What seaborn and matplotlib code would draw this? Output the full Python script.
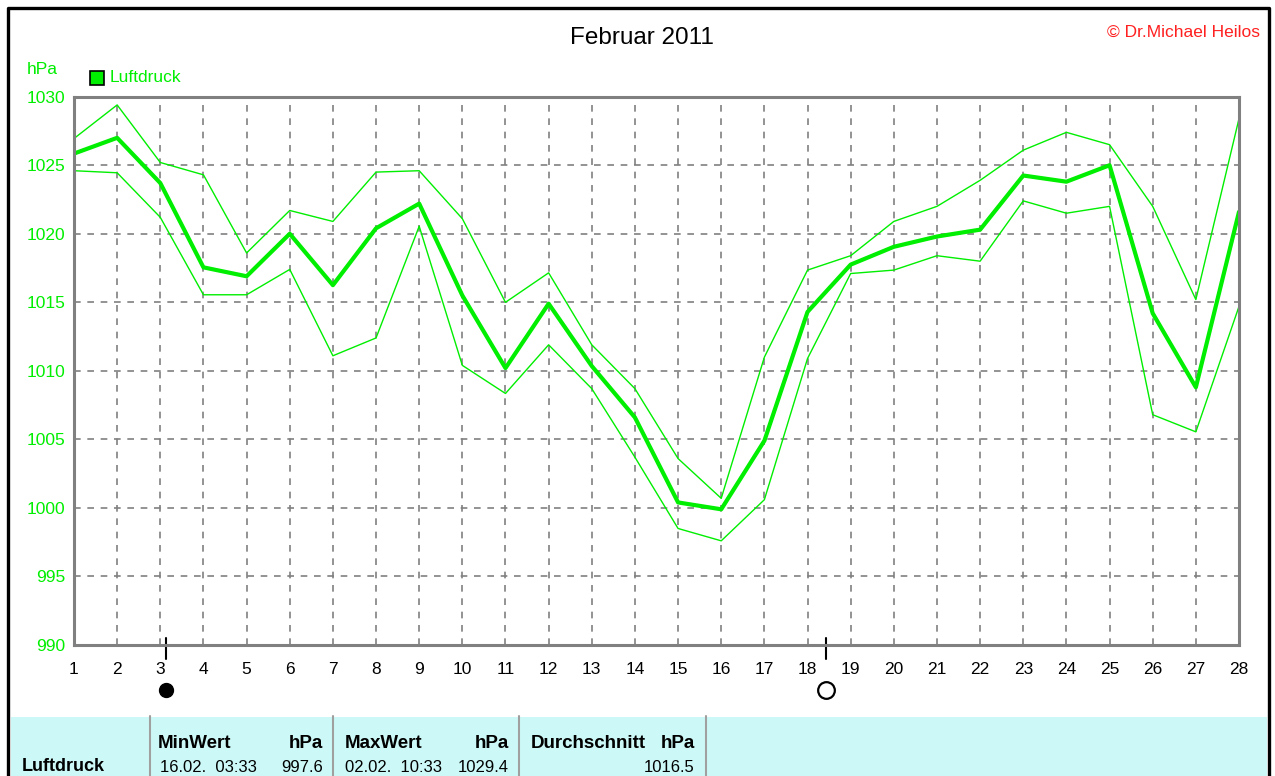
import matplotlib
matplotlib.use("Agg")
import matplotlib.pyplot as plt
import matplotlib.transforms as mtransforms
from matplotlib.patches import Rectangle
import pandas as pd
import seaborn as sns

# --- data ---
days = list(range(1, 29))
p_mean = [1025.85, 1027.0, 1023.7, 1017.55, 1016.9, 1020.0, 1016.25, 1020.4, 1022.2, 1015.5,
          1010.2, 1014.9, 1010.35, 1006.6, 1000.4, 999.9, 1004.9, 1014.3, 1017.75, 1019.05,
          1019.8, 1020.3, 1024.25, 1023.8, 1025.0, 1014.2, 1008.8, 1021.6]
p_max = [1026.95, 1029.4, 1025.2, 1024.3, 1018.6, 1021.7, 1020.9, 1024.5, 1024.6, 1021.1,
         1015.0, 1017.15, 1011.9, 1008.7, 1003.6, 1000.7, 1011.0, 1017.35, 1018.4, 1020.9,
         1022.0, 1023.9, 1026.1, 1027.4, 1026.5, 1022.0, 1015.2, 1028.4]
p_min = [1024.6, 1024.45, 1021.2, 1015.55, 1015.55, 1017.4, 1011.1, 1012.4, 1020.55, 1010.4,
         1008.35, 1011.9, 1008.7, 1003.7, 998.5, 997.6, 1000.6, 1010.9, 1017.1, 1017.35,
         1018.4, 1018.0, 1022.4, 1021.5, 1022.0, 1006.8, 1005.55, 1014.7]
y_ticks = [990, 995, 1000, 1005, 1010, 1015, 1020, 1025, 1030]
new_moon_day = [3.13]
full_moon_day = [18.43]

table_header = ["MinWert", "hPa", "MaxWert", "hPa", "Durchschnitt", "hPa"]
table_row = ["Luftdruck", "16.02.  03:33", "997.6", "02.02.  10:33", "1029.4", "1016.5"]

W, H = 1275, 776
GREEN = "#00ee00"
GRID = "#808080"


def fx(x):
    return x / W


def fy(y):
    return 1 - y / H


sns.set_style("white")
plt.rcParams["font.family"] = ["Liberation Sans", "DejaVu Sans"]
plt.rcParams["text.color"] = "black"

fig = plt.figure(figsize=(W / 100, H / 100), dpi=100)

# outer black frame and cyan stats panel
fig.patches.append(Rectangle((fx(11), 0), fx(1267) - fx(11), fy(717),
                             transform=fig.transFigure, facecolor="#ccf9f7",
                             edgecolor="none", zorder=0))
fig.add_artist(plt.Line2D([fx(8), fx(8), fx(1269), fx(1269)], [0, fy(8), fy(8), 0],
                          color="black", lw=2.4, transform=fig.transFigure))
for xs in [150, 333, 519, 706]:
    fig.add_artist(plt.Line2D([fx(xs), fx(xs)], [0, fy(716)], color="#a0a0a0",
                              lw=1.5, transform=fig.transFigure))

ax = fig.add_axes([fx(74), fy(645), fx(1239) - fx(74), fy(96.7) - fy(645)])

df = pd.DataFrame({"Tag": days, "mean": p_mean, "max": p_max, "min": p_min})
sns.lineplot(data=df, x="Tag", y="max", color=GREEN, lw=1.0, ax=ax)
sns.lineplot(data=df, x="Tag", y="min", color=GREEN, lw=1.0, ax=ax)
sns.lineplot(data=df, x="Tag", y="mean", color=GREEN, lw=3.0, ax=ax)

ax.set_xlim(1, 28)
ax.set_ylim(990, 1030)
ax.set_xticks(days)
ax.set_yticks(y_ticks)
ax.set_xlabel("")
ax.set_ylabel("")
ax.grid(True, color=GRID, ls=(0, (4, 4)), lw=1.2)
for s in ax.spines.values():
    s.set_color(GRID)
    s.set_linewidth(2.2)
ax.tick_params(axis="both", direction="out", length=5, width=1.2, color=GRID)
ax.tick_params(axis="x", labelsize=12.5, labelcolor="black", pad=7)
ax.tick_params(axis="y", labelsize=12.5, labelcolor=GREEN, pad=1)

# moon phases below the x axis
trans = mtransforms.blended_transform_factory(ax.transData, ax.transAxes)
for d in new_moon_day + full_moon_day:
    ax.plot([d, d], [0.013, -0.025], color="black", lw=1.5, transform=trans, clip_on=False)
ax.plot(new_moon_day, [-0.082], "o", ms=10, color="black", transform=trans, clip_on=False)
ax.plot(full_moon_day, [-0.082], "o", ms=12, mfc="white", mec="black", mew=1.6,
        transform=trans, clip_on=False)

# titles and labels
fig.text(fx(642), fy(38), "Februar 2011", ha="center", va="center", fontsize=17.5)
fig.text(fx(1260), fy(32), "© Dr.Michael Heilos", ha="right", va="center",
         fontsize=12.5, color="#ff2020")
fig.text(fx(27), fy(70), "hPa", ha="left", va="center", fontsize=12.5, color=GREEN)
fig.patches.append(Rectangle((fx(90), fy(85)), fx(14), 14 / H, transform=fig.transFigure,
                             facecolor=GREEN, edgecolor="black", lw=1.2))
fig.text(fx(110), fy(77), "Luftdruck", ha="left", va="center", fontsize=12.5, color=GREEN)

# statistics table
hy, ry = fy(748), fy(775)
fs, fb = 12, 13.5
fig.text(fx(158), hy, table_header[0], fontsize=fb, fontweight="bold", va="baseline")
fig.text(fx(323), hy, table_header[1], fontsize=fb, fontweight="bold", va="baseline", ha="right")
fig.text(fx(345), hy, table_header[2], fontsize=fb, fontweight="bold", va="baseline")
fig.text(fx(509), hy, table_header[3], fontsize=fb, fontweight="bold", va="baseline", ha="right")
fig.text(fx(531), hy, table_header[4], fontsize=fb, fontweight="bold", va="baseline")
fig.text(fx(695), hy, table_header[5], fontsize=fb, fontweight="bold", va="baseline", ha="right")

fig.text(fx(22), ry, table_row[0], fontsize=13, fontweight="bold", va="bottom")
fig.text(fx(160), ry, table_row[1], fontsize=fs, va="bottom")
fig.text(fx(323), ry, table_row[2], fontsize=fs, va="bottom", ha="right")
fig.text(fx(345), ry, table_row[3], fontsize=fs, va="bottom")
fig.text(fx(509), ry, table_row[4], fontsize=fs, va="bottom", ha="right")
fig.text(fx(695), ry, table_row[5], fontsize=fs, va="bottom", ha="right")

fig.savefig("out.png", dpi=100)
